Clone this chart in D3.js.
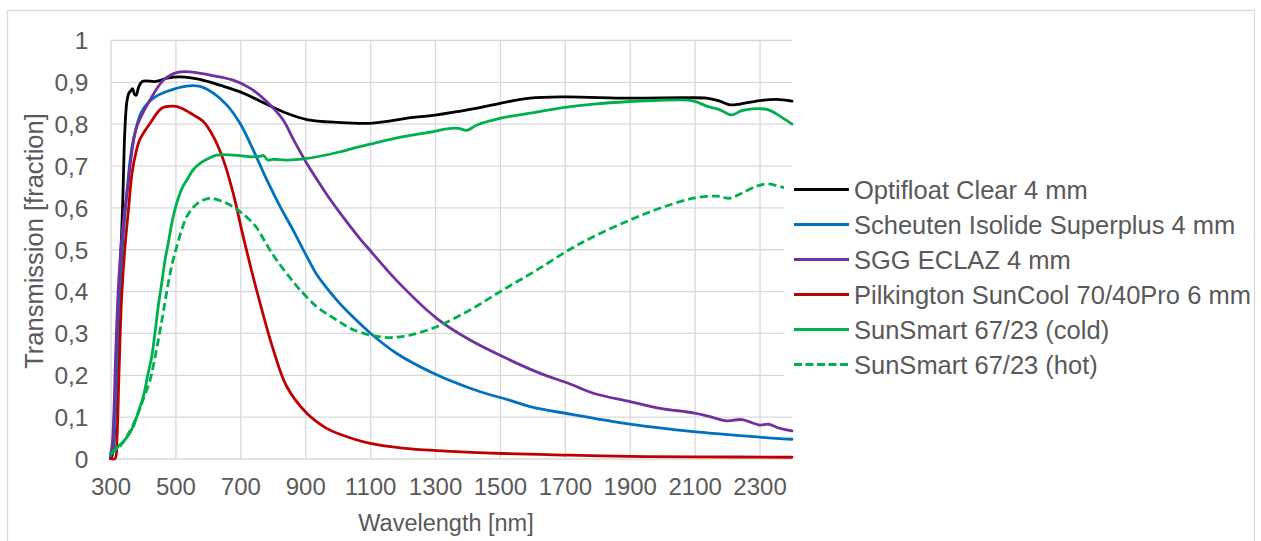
<!DOCTYPE html>
<html><head><meta charset="utf-8">
<script src="https://cdn.jsdelivr.net/npm/d3@7/dist/d3.min.js"></script>
<style>
html,body{margin:0;padding:0;background:#fff;}
svg{display:block;font-family:"Liberation Sans",Arial,sans-serif;}
</style></head>
<body>
<svg id="chart" width="1261" height="541"></svg>
<script>
// ---- data ----
const xTicks = [300,500,700,900,1100,1300,1500,1700,1900,2100,2300];
const yTicks = [0,0.1,0.2,0.3,0.4,0.5,0.6,0.7,0.8,0.9,1];

const seriesNames = [
  "Optifloat Clear 4 mm",
  "Scheuten Isolide Superplus 4 mm",
  "SGG ECLAZ 4 mm",
  "Pilkington SunCool 70/40Pro 6 mm",
  "SunSmart 67/23 (cold)",
  "SunSmart 67/23 (hot)"
];
const seriesColors = ["#000000","#0070C0","#7030A0","#C00000","#00B050","#00B050"];
const seriesDashed = [false,false,false,false,false,true];

const optifloat = [[300,0],[306,0.01],[312,0.06],[320,0.22],[330,0.45],[338,0.62],[344,0.78],[350,0.85],[356,0.872],[362,0.878],[368,0.884],[374,0.87],[379,0.868],[387,0.888],[398,0.901],[440,0.901],[475,0.909],[515,0.912],[575,0.906],[637,0.892],[700,0.876],[780,0.847],[843,0.825],[905,0.81],[1000,0.803],[1100,0.801],[1233,0.815],[1305,0.821],[1408,0.834],[1490,0.847],[1593,0.861],[1700,0.864],[1900,0.861],[2076,0.862],[2137,0.861],[2173,0.855],[2209,0.845],[2240,0.847],[2300,0.855],[2353,0.858],[2400,0.854]];

const scheuten = [[300,0.005],[307,0.02],[314,0.1],[321,0.25],[330,0.42],[340,0.54],[350,0.63],[360,0.71],[370,0.76],[396,0.829],[432,0.861],[473,0.877],[535,0.89],[576,0.889],[617,0.873],[658,0.845],[699,0.801],[740,0.737],[781,0.667],[822,0.603],[863,0.545],[900,0.49],[935,0.44],[976,0.398],[1007,0.37],[1038,0.345],[1100,0.30],[1182,0.251],[1305,0.2],[1408,0.168],[1480,0.15],[1510,0.144],[1593,0.124],[1716,0.106],[1901,0.082],[2096,0.064],[2301,0.051],[2400,0.046]];

const eclaz = [[300,0.01],[305,0.03],[310,0.1],[316,0.25],[325,0.42],[335,0.53],[345,0.6],[355,0.66],[362,0.71],[381,0.793],[422,0.857],[463,0.904],[504,0.922],[545,0.924],[607,0.916],[678,0.904],[730,0.885],[781,0.853],[832,0.809],[863,0.763],[905,0.705],[946,0.655],[976,0.62],[1007,0.587],[1069,0.525],[1100,0.497],[1182,0.425],[1305,0.335],[1408,0.283],[1510,0.243],[1613,0.207],[1716,0.178],[1788,0.156],[1901,0.136],[1993,0.12],[2096,0.109],[2147,0.1],[2199,0.09],[2245,0.093],[2301,0.08],[2327,0.082],[2363,0.072],[2400,0.066]];

const suncool = [[300,0],[314,0],[320,0.05],[326,0.2],[334,0.38],[344,0.5],[356,0.6],[366,0.68],[378,0.73],[391,0.763],[422,0.801],[458,0.837],[494,0.842],[519,0.837],[555,0.821],[586,0.805],[617,0.769],[648,0.713],[678,0.634],[709,0.53],[750,0.403],[802,0.259],[843,0.172],[905,0.108],[966,0.072],[1007,0.058],[1100,0.036],[1200,0.025],[1305,0.019],[1510,0.012],[1716,0.008],[1900,0.005],[2100,0.004],[2400,0.003]];

const sunsmartCold = [[300,0.012],[329,0.032],[350,0.05],[370,0.076],[385,0.11],[401,0.148],[415,0.2],[427,0.243],[437,0.3],[447,0.363],[458,0.42],[468,0.474],[478,0.515],[491,0.57],[504,0.61],[520,0.645],[535,0.665],[555,0.69],[576,0.705],[600,0.716],[627,0.725],[678,0.725],[730,0.721],[760,0.722],[771,0.724],[785,0.713],[800,0.715],[843,0.713],[905,0.717],[976,0.727],[1007,0.733],[1100,0.751],[1202,0.769],[1295,0.781],[1331,0.787],[1371,0.789],[1398,0.784],[1429,0.797],[1500,0.813],[1593,0.825],[1700,0.839],[1789,0.847],[1901,0.853],[1993,0.856],[2086,0.856],[2106,0.852],[2137,0.842],[2178,0.833],[2214,0.821],[2245,0.831],[2298,0.836],[2332,0.832],[2363,0.818],[2400,0.799]];

const sunsmartHot = [[300,0.01],[330,0.03],[350,0.052],[381,0.1],[400,0.14],[422,0.188],[438,0.245],[453,0.307],[466,0.365],[478,0.419],[490,0.465],[504,0.506],[520,0.548],[535,0.578],[555,0.6],[576,0.614],[600,0.621],[612,0.622],[635,0.617],[658,0.61],[680,0.6],[699,0.59],[725,0.573],[750,0.552],[771,0.525],[790,0.5],[812,0.474],[850,0.435],[884,0.403],[935,0.363],[976,0.341],[1007,0.326],[1038,0.311],[1100,0.295],[1161,0.289],[1223,0.295],[1305,0.315],[1408,0.355],[1510,0.403],[1613,0.45],[1716,0.5],[1788,0.53],[1901,0.57],[1993,0.598],[2096,0.622],[2168,0.627],[2209,0.622],[2245,0.634],[2291,0.651],[2327,0.656],[2372,0.648],[2400,0.645]];

const seriesData = [optifloat, scheuten, eclaz, suncool, sunsmartCold, sunsmartHot];

// ---- layout ----
const svg = d3.select("#chart");
const textColor = "#595959";
const gridColor = "#d9d9d9";
const L = 110.5, R = 792, T = 40, B = 458.5;

const x = d3.scaleLinear().domain([300,2400]).range([L,R]);
const y = d3.scaleLinear().domain([0,1]).range([B,T]);

// outer border
svg.append("rect").attr("x",7.5).attr("y",10.5).attr("width",1247).attr("height",540)
  .attr("fill","#fff").attr("stroke",gridColor).attr("stroke-width",1.3);

// gridlines
const gx = svg.append("g").attr("transform",`translate(0,${B})`)
  .call(d3.axisBottom(x).tickValues(xTicks).tickSize(-(B-T)).tickFormat(""));
gx.select(".domain").remove();
gx.selectAll("line").attr("stroke",gridColor).attr("stroke-width",1.3);

const gy = svg.append("g").attr("transform",`translate(${L},0)`)
  .call(d3.axisLeft(y).tickValues(yTicks).tickSize(-(R-L)).tickFormat(""));
gy.select(".domain").remove();
gy.selectAll("line").attr("stroke",gridColor).attr("stroke-width",1.3);

// tick labels
const loc = d3.formatLocale({decimal:",",thousands:".",grouping:[3],currency:["","€"]});
const fmtY = loc.format("~g");

const ax = svg.append("g").attr("transform",`translate(0,${B})`)
  .call(d3.axisBottom(x).tickValues(xTicks).tickSize(0).tickFormat(d3.format("d")));
ax.select(".domain").remove();
ax.selectAll("text").attr("y",36.5).attr("dy",null)
  .attr("fill",textColor).style("font-size","24px").style("font-family","'Liberation Sans',Arial,sans-serif");

const ay = svg.append("g").attr("transform",`translate(${L},0)`)
  .call(d3.axisLeft(y).tickValues(yTicks).tickSize(0).tickFormat(fmtY));
ay.select(".domain").remove();
ay.selectAll("text").attr("x",-22).attr("dy","0.36em")
  .attr("fill",textColor).style("font-size","24.5px").style("font-family","'Liberation Sans',Arial,sans-serif");

// axis titles
svg.append("text").attr("x",446).attr("y",531).attr("text-anchor","middle")
  .attr("fill",textColor).style("font-size","23.5px").text("Wavelength [nm]");
svg.append("text").attr("transform","translate(43,241) rotate(-90)").attr("text-anchor","middle")
  .attr("fill",textColor).style("font-size","25.5px").text("Transmission [fraction]");

// lines
const line = d3.line().x(d=>x(d[0])).y(d=>y(d[1])).curve(d3.curveCatmullRom.alpha(0.5));
const plot = svg.append("g");
seriesData.forEach((data,i)=>{
  plot.append("path").datum(data).attr("d",line)
    .attr("fill","none").attr("stroke",seriesColors[i]).attr("stroke-width",2.8)
    .attr("stroke-linejoin","round").attr("stroke-linecap", seriesDashed[i] ? "butt" : "round")
    .attr("stroke-dasharray", seriesDashed[i] ? "8,4" : null);
});

// legend
const lg = svg.append("g");
lg.append("rect").attr("x",784).attr("y",172).attr("width",466).attr("height",211).attr("fill","#fff");
const rowY = [189.5,224.5,259.5,294.5,329.5,364.5];
seriesNames.forEach((name,i)=>{
  lg.append("line").attr("x1",794).attr("x2",849).attr("y1",rowY[i]).attr("y2",rowY[i])
    .attr("stroke",seriesColors[i]).attr("stroke-width",2.8)
    .attr("stroke-dasharray", seriesDashed[i] ? "8,3.5" : null);
  lg.append("text").attr("x",854).attr("y",rowY[i]+9).attr("fill",textColor)
    .style("font-size","25.5px").text(name);
});
</script>
</body></html>
